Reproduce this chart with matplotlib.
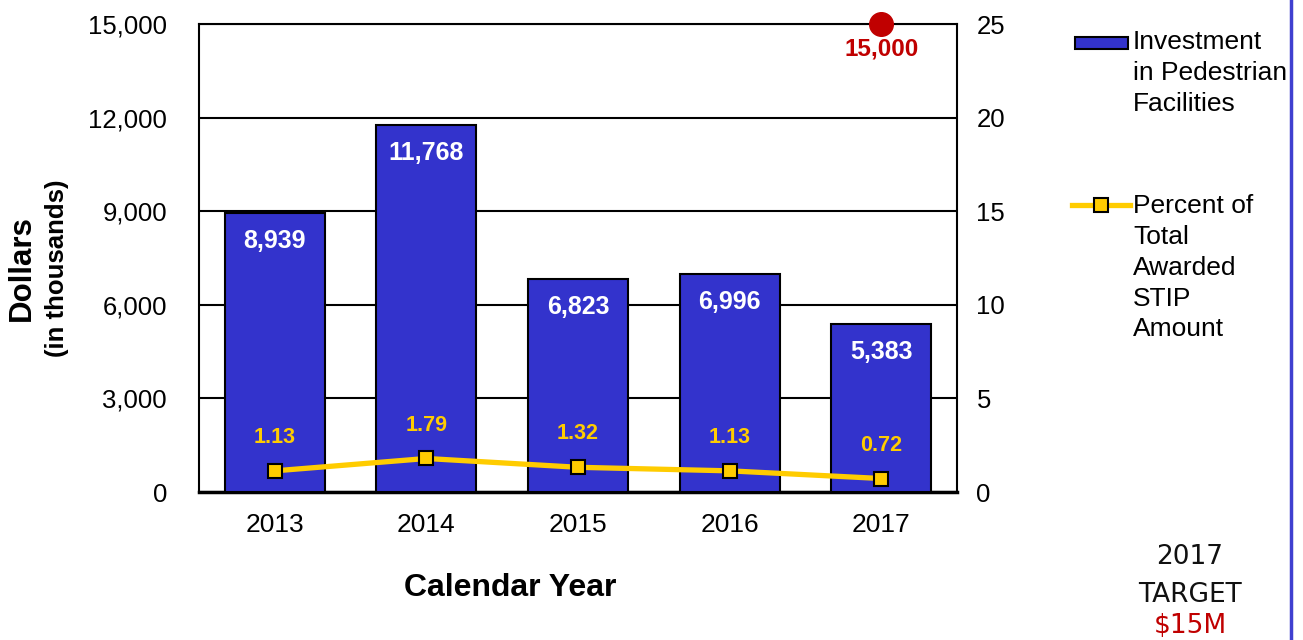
import matplotlib
matplotlib.use('Agg')
import matplotlib.pyplot as plt
from matplotlib.lines import Line2D
from matplotlib.patches import Rectangle

plt.rcParams['font.family'] = ['Liberation Sans', 'DejaVu Sans']

# datos
years = ['2013', '2014', '2015', '2016', '2017']
investment = [8939, 11768, 6823, 6996, 5383]
percent = [1.13, 1.79, 1.32, 1.13, 0.72]
target_year = '2017'
target_value = 15000
left_ticks = [0, 3000, 6000, 9000, 12000, 15000]
right_ticks = [0, 5, 10, 15, 20, 25]

BLUE = '#3333CC'
YELLOW = '#FFCC00'
RED = '#C00000'

W, H = 1303, 640
fig = plt.figure(figsize=(W / 100, H / 100), dpi=100)
ax = fig.add_axes([199 / W, 1 - 492 / H, (957 - 199) / W, (492 - 24) / H])
x = list(range(len(years)))

# barras
bars = ax.bar(x, investment, width=0.66, color=BLUE, edgecolor='black', linewidth=1.5, zorder=3)
for xi, v in zip(x, investment):
    ax.annotate(f'{v:,}', (xi, v), xytext=(0, -20), textcoords='offset points',
                ha='center', va='center', color='white', fontsize=18, fontweight='bold', zorder=5)

# objetivo 2017
tx = years.index(target_year)
ax.plot([tx], [target_value], 'o', color=RED, markersize=17, zorder=6, clip_on=False)
ax.annotate(f'{target_value:,}', (tx, target_value), xytext=(0, -18), textcoords='offset points',
            ha='center', va='center', color=RED, fontsize=17.5, fontweight='bold', zorder=6)

ax.set_xlim(-0.5, len(years) - 0.5)
ax.set_ylim(0, 15000)
ax.set_yticks(left_ticks)
ax.set_yticklabels([f'{t:,}' for t in left_ticks])
ax.set_xticks(x)
ax.set_xticklabels(years)
ax.tick_params(axis='y', length=0, labelsize=18.5, pad=23)
ax.tick_params(axis='x', length=0, labelsize=19, pad=15)
ax.grid(axis='y', color='black', linewidth=1.5, zorder=0)
ax.set_axisbelow(True)
for s in ['left', 'right', 'top']:
    ax.spines[s].set_linewidth(1.5)
ax.spines['bottom'].set_linewidth(2.5)

# eje derecho (porcentaje)
ax2 = ax.twinx()
ax2.set_ylim(0, 25)
ax2.set_yticks(right_ticks)
ax2.tick_params(axis='y', length=0, labelsize=18.5, pad=14)
for s in ax2.spines.values():
    s.set_visible(False)
ax2.plot(x, percent, color=YELLOW, linewidth=3.8, marker='s', markersize=9.5,
         markerfacecolor=YELLOW, markeredgecolor='black', markeredgewidth=1.5, zorder=4)
for xi, p in zip(x, percent):
    ax2.annotate(f'{p:.2f}', (xi, p), xytext=(0, 24), textcoords='offset points',
                 ha='center', va='center', color=YELLOW, fontsize=15.5, fontweight='bold')

# etiquetas de ejes
fig.text(22 / W, 1 - 268 / H, 'Dollars', rotation=90, ha='center', va='center',
         fontsize=22.5, fontweight='bold')
fig.text(57 / W, 1 - 268 / H, '(in thousands)', rotation=90, ha='center', va='center',
         fontsize=18.5, fontweight='bold')
fig.text(510 / W, 1 - 588 / H, 'Calendar Year', ha='center', va='center',
         fontsize=23, fontweight='bold')

# leyenda manual
fig.add_artist(Rectangle((1075 / W, 1 - 49 / H), 53 / W, 12 / H, transform=fig.transFigure,
                         facecolor=BLUE, edgecolor='black', linewidth=1.5))
fig.text(1133 / W, 1 - 30 / H, 'Investment\nin Pedestrian\nFacilities', ha='left', va='top',
         fontsize=19, linespacing=1.36)
fig.add_artist(Line2D([1072 / W, 1130 / W], [1 - 205 / H, 1 - 205 / H], transform=fig.transFigure,
                      color=YELLOW, linewidth=3.8))
fig.add_artist(Line2D([1101 / W], [1 - 205 / H], transform=fig.transFigure, marker='s',
                      markersize=9.5, markerfacecolor=YELLOW, markeredgecolor='black',
                      markeredgewidth=1.5))
fig.text(1133 / W, 1 - 194 / H, 'Percent of\nTotal\nAwarded\nSTIP\nAmount', ha='left', va='top',
         fontsize=19, linespacing=1.36)

# nota del objetivo
fig.text(1190 / W, 1 - 557 / H, '2017', ha='center', va='center', fontsize=19,
         family='DejaVu Sans', color='#111111')
fig.text(1190 / W, 1 - 595 / H, 'TARGET', ha='center', va='center', fontsize=19,
         family='DejaVu Sans', color='#111111')
fig.text(1190 / W, 1 - 626 / H, '$15M', ha='center', va='center', fontsize=19,
         family='DejaVu Sans', color=RED)

fig.add_artist(Line2D([1291 / W, 1291 / W], [0, 1], transform=fig.transFigure,
                      color='#4040D0', linewidth=2.5))

fig.savefig('out.png', dpi=100)
